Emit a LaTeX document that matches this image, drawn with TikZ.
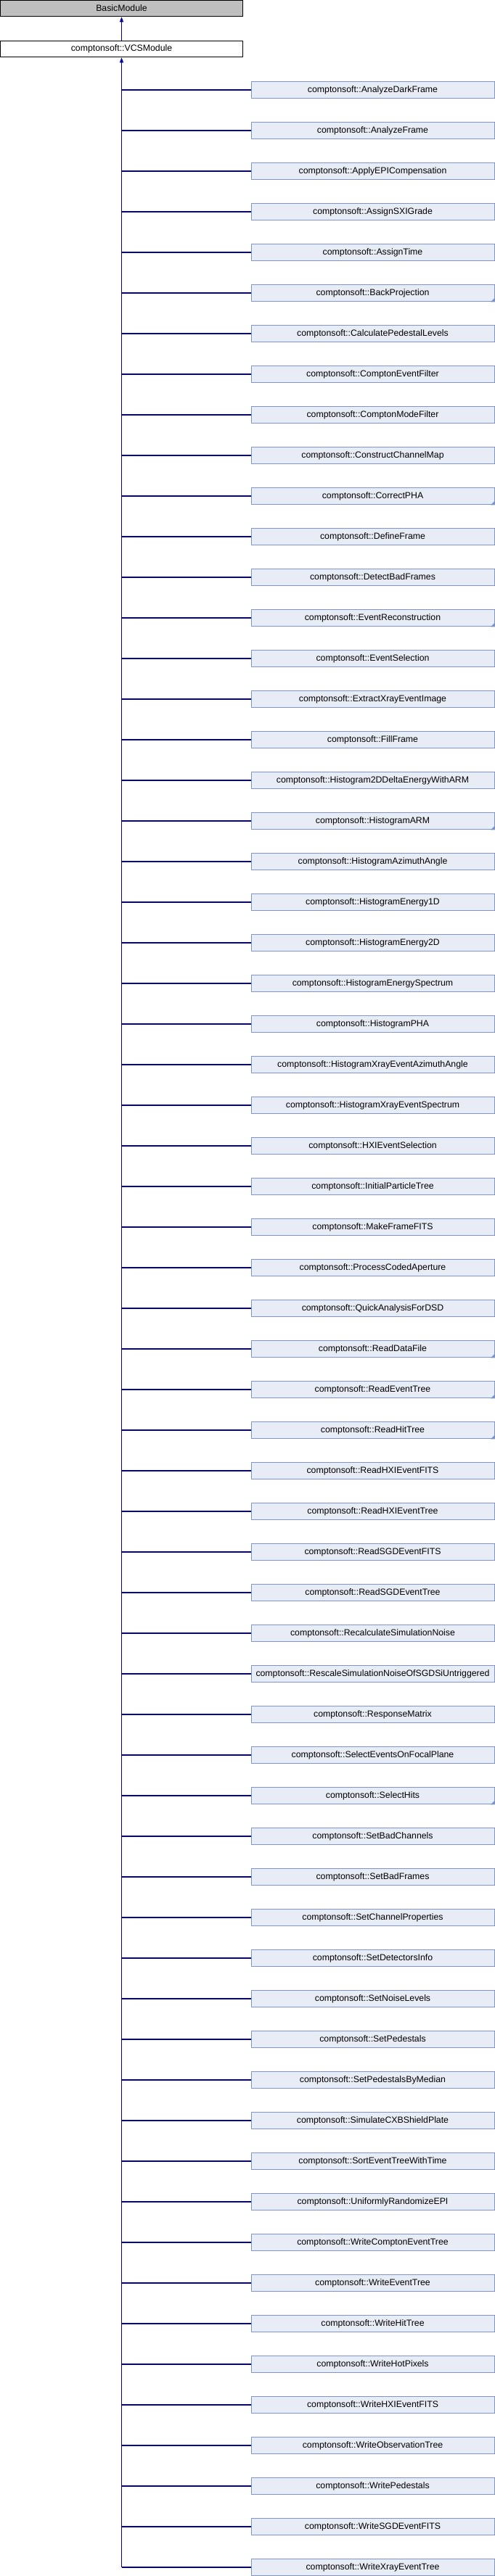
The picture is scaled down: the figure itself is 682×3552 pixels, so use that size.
\documentclass[tikz,border=0pt]{standalone}
\usepackage{fontspec}
\setmainfont{Liberation Sans}
\usetikzlibrary{arrows.meta}
\definecolor{linecol}{RGB}{0,0,150}
\definecolor{childfill}{RGB}{232,236,245}
\definecolor{childdraw}{RGB}{124,149,202}
\definecolor{basefill}{RGB}{191,191,191}
\tikzset{
  box/.style={rectangle, inner sep=0pt, line width=1pt, minimum height=22.5pt,
    font=\fontsize{12.3}{14}\selectfont},
  basebox/.style={box, draw=black, fill=basefill, minimum width=334pt},
  vcsbox/.style={box, draw=black, fill=white, minimum width=334pt},
  childbox/.style={box, draw=childdraw, fill=childfill, minimum width=335pt},
  conn/.style={draw=linecol, line width=1.1pt},
  tipconn/.style={conn, {Triangle[width=5pt,length=7pt]}-},
  marker/.style={fill=childdraw}
}
\begin{document}
\begin{tikzpicture}[x=1pt,y=-1pt]
\useasboundingbox (0,0) rectangle (682,3552);
\node[basebox] (basic) at (167.5,11.5) {BasicModule};
\node[vcsbox] (vcs) at (167.5,67.5) {comptonsoft::VCSModule};
\foreach \nm [count=\i from 0] in {AnalyzeDarkFrame,AnalyzeFrame,ApplyEPICompensation,AssignSXIGrade,AssignTime,BackProjection,CalculatePedestalLevels,ComptonEventFilter,ComptonModeFilter,ConstructChannelMap,CorrectPHA,DefineFrame,DetectBadFrames,EventReconstruction,EventSelection,ExtractXrayEventImage,FillFrame,Histogram2DDeltaEnergyWithARM,HistogramARM,HistogramAzimuthAngle,HistogramEnergy1D,HistogramEnergy2D,HistogramEnergySpectrum,HistogramPHA,HistogramXrayEventAzimuthAngle,HistogramXrayEventSpectrum,HXIEventSelection,InitialParticleTree,MakeFrameFITS,ProcessCodedAperture,QuickAnalysisForDSD,ReadDataFile,ReadEventTree,ReadHitTree,ReadHXIEventFITS,ReadHXIEventTree,ReadSGDEventFITS,ReadSGDEventTree,RecalculateSimulationNoise,RescaleSimulationNoiseOfSGDSiUntriggered,ResponseMatrix,SelectEventsOnFocalPlane,SelectHits,SetBadChannels,SetBadFrames,SetChannelProperties,SetDetectorsInfo,SetNoiseLevels,SetPedestals,SetPedestalsByMedian,SimulateCXBShieldPlate,SortEventTreeWithTime,UniformlyRandomizeEPI,WriteComptonEventTree,WriteEventTree,WriteHitTree,WriteHotPixels,WriteHXIEventFITS,WriteObservationTree,WritePedestals,WriteSGDEventFITS,WriteXrayEventTree}{
  \node[childbox] (n\i) at (513.5,{124+56*\i}) {comptonsoft::\nm};
}
\foreach \i in {5,10,13,18,31,32,33,42}{
  \fill[marker] ([xshift=0.5pt,yshift=-0.5pt]n\i.south east) -- ++(-6,0) -- ++(6,-6) -- cycle;
}
\draw[tipconn] (basic.south) -- (vcs.north);
\draw[tipconn] (vcs.south) -- (vcs.south |- n61.west);
\foreach \i in {0,...,61}{
  \draw[conn] (vcs.south |- n\i.west) -- (n\i.west);
}
\end{tikzpicture}
\end{document}
